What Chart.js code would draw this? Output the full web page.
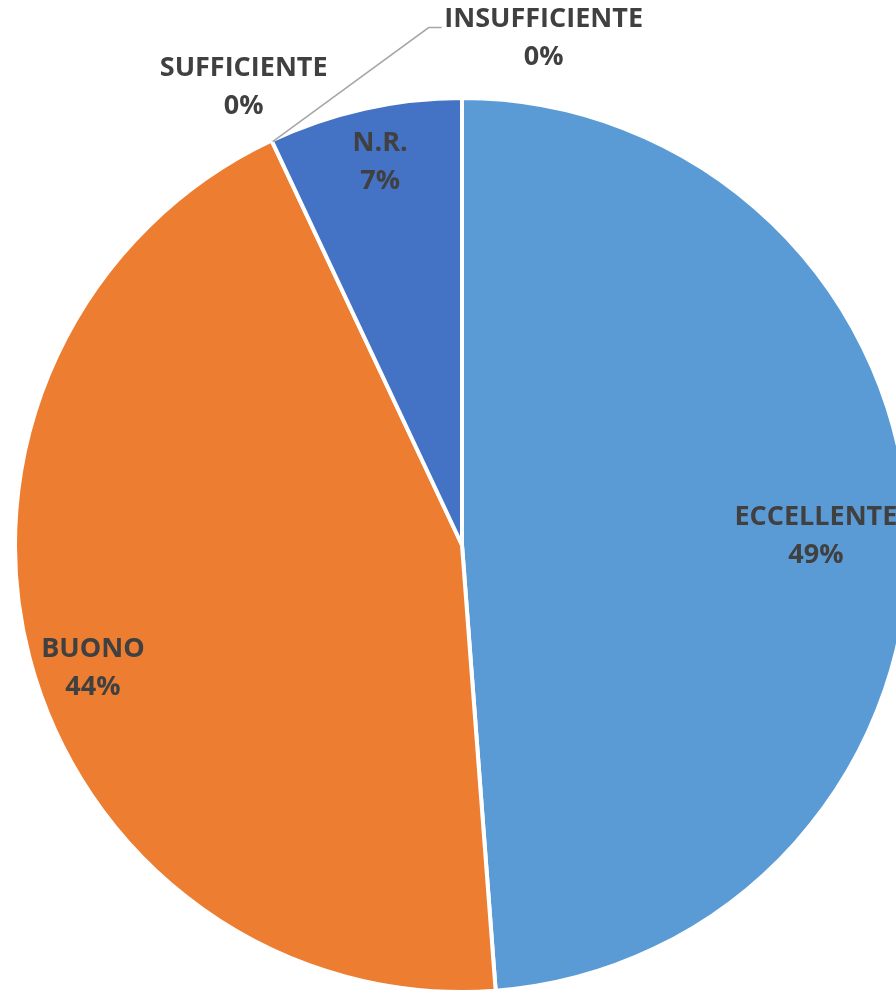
<!DOCTYPE html>
<html>
<head>
<meta charset="utf-8">
<script src="https://cdn.jsdelivr.net/npm/chart.js@4/dist/chart.umd.min.js"></script>
<style>
  html, body { margin: 0; padding: 0; background: #fff; overflow: hidden; }
  #wrap { width: 924px; height: 994px; }
</style>
</head>
<body>
<div id="wrap"><canvas id="pie" width="924" height="994"></canvas></div>
<script>
const categories = ['ECCELLENTE', 'BUONO', 'SUFFICIENTE', 'INSUFFICIENTE', 'N.R.'];
const values = [48.8, 44.2, 0, 0, 7.0];
const percentLabels = ['49%', '44%', '0%', '0%', '7%'];
const colors = ['#5B9BD5', '#ED7D31', '#A5A5A5', '#FFC000', '#4472C4'];

// where each label sits: inside labels by radial fraction, zero slices outside
const labelPlacement = [
  { f: 0.79, dx: 1, dy: 5 },
  { f: 0.87, dx: 7, dy: 24 },
  { f: 1, dx: -28, dy: -53 },
  { f: 1, dx: 272, dy: -102, leader: true },
  { f: 0.87, dx: 3, dy: -3 }
];

const labelPlugin = {
  id: 'pieLabels',
  afterDatasetsDraw(chart) {
    const ctx = chart.ctx;
    const arcs = chart.getDatasetMeta(0).data;
    ctx.save();
    ctx.font = 'bold 27px "Open Sans", sans-serif';
    ctx.fillStyle = '#404040';
    ctx.textAlign = 'center';
    ctx.textBaseline = 'middle';
    arcs.forEach((arc, i) => {
      const p = labelPlacement[i];
      const mid = (arc.startAngle + arc.endAngle) / 2;
      const r = arc.outerRadius * p.f;
      const ex = arc.x + Math.cos(mid) * arc.outerRadius;
      const ey = arc.y + Math.sin(mid) * arc.outerRadius;
      const cx = arc.x + Math.cos(mid) * r + p.dx;
      const cy = arc.y + Math.sin(mid) * r + p.dy;
      if (p.leader) {
        ctx.beginPath();
        ctx.strokeStyle = '#A6A6A6';
        ctx.lineWidth = 1.5;
        ctx.moveTo(ex + 1, ey + 1);
        ctx.lineTo(cx - 115, cy - 11);
        ctx.lineTo(cx - 102, cy - 11);
        ctx.stroke();
      }
      ctx.fillText(categories[i], cx, cy - 19);
      ctx.fillText(percentLabels[i], cx, cy + 19);
    });
    ctx.restore();
  }
};

new Chart(document.getElementById('pie'), {
  type: 'pie',
  data: {
    labels: categories,
    datasets: [{
      data: values,
      backgroundColor: colors,
      borderColor: '#ffffff',
      borderWidth: 4,
      hoverOffset: 0
    }]
  },
  options: {
    responsive: false,
    animation: false,
    layout: { padding: { top: 96, bottom: 0, left: 0, right: 0 } },
    plugins: {
      legend: { display: false },
      tooltip: { enabled: false }
    }
  },
  plugins: [labelPlugin]
});
</script>
</body>
</html>
